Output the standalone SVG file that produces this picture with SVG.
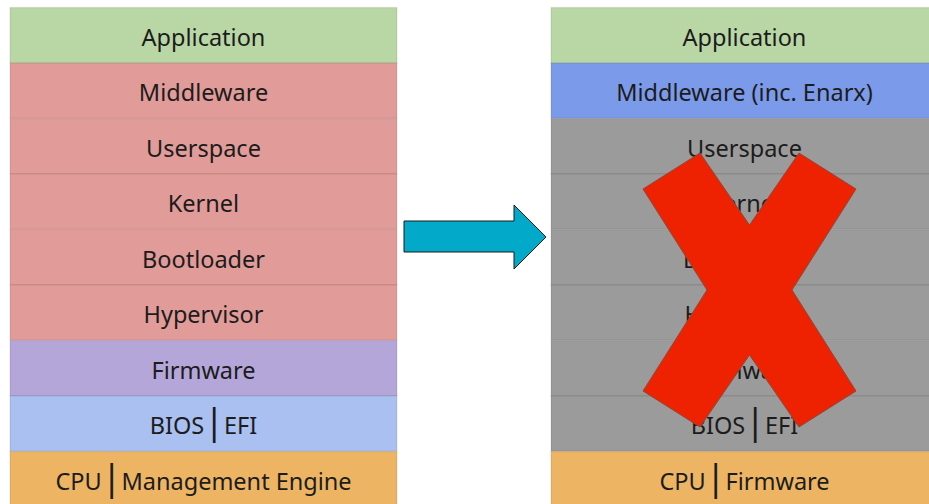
<svg xmlns="http://www.w3.org/2000/svg" width="929" height="504" viewBox="0 0 929 504">
  <style>
    .row { stroke: #000; stroke-opacity: 0.07; stroke-width: 1.5; }
    .lbl { font-family: "Noto Sans", "Open Sans", sans-serif; font-size: 23.5px; fill: #1c1c1c; text-anchor: middle; }
    .bar { font-size: 36px; }
    .app { fill: #b9d7a5; }
    .mid { fill: #e19b98; }
    .fw { fill: #b4a6d9; }
    .bios { fill: #a9c0f1; }
    .cpu { fill: #edb563; }
    .enarx { fill: #7b9ae9; }
    .gone { fill: #9b9b9b; }
  </style>
  <rect width="929" height="504" fill="#ffffff"/>

  <!-- Left stack: conventional layers -->
  <g id="left-stack">
    <g id="l-application"><rect class="row app" x="10" y="7.5" width="387" height="55.5"/><text class="lbl" x="203.5" y="45.5">Application</text></g>
    <g id="l-middleware"><rect class="row mid" x="10" y="63" width="387" height="55.5"/><text class="lbl" x="203.5" y="101">Middleware</text></g>
    <g id="l-userspace"><rect class="row mid" x="10" y="118.5" width="387" height="55.5"/><text class="lbl" x="203.5" y="156.5">Userspace</text></g>
    <g id="l-kernel"><rect class="row mid" x="10" y="174" width="387" height="55.5"/><text class="lbl" x="203.5" y="212">Kernel</text></g>
    <g id="l-bootloader"><rect class="row mid" x="10" y="229.5" width="387" height="55.5"/><text class="lbl" x="203.5" y="267.5">Bootloader</text></g>
    <g id="l-hypervisor"><rect class="row mid" x="10" y="285" width="387" height="55.5"/><text class="lbl" x="203.5" y="323">Hypervisor</text></g>
    <g id="l-firmware"><rect class="row fw" x="10" y="340.5" width="387" height="55.5"/><text class="lbl" x="203.5" y="378.5">Firmware</text></g>
    <g id="l-bios"><rect class="row bios" x="10" y="396" width="387" height="55.5"/><text class="lbl" x="203.5" y="434">BIOS<tspan class="bar">|</tspan>EFI</text></g>
    <g id="l-cpu"><rect class="row cpu" x="10" y="451.5" width="387" height="60"/><text class="lbl" x="203.5" y="489.5">CPU<tspan class="bar">|</tspan>Management Engine</text></g>
  </g>

  <!-- Right stack: reduced trust base -->
  <g id="right-stack">
    <g id="r-application"><rect class="row app" x="551" y="7.5" width="387" height="55.5"/><text class="lbl" x="744.5" y="45.5">Application</text></g>
    <g id="r-middleware"><rect class="row enarx" x="551" y="63" width="387" height="55.5"/><text class="lbl" x="744.5" y="101">Middleware (inc. Enarx)</text></g>
    <g id="r-userspace"><rect class="row gone" x="551" y="118.5" width="387" height="55.5"/><text class="lbl" x="744.5" y="156.5">Userspace</text></g>
    <g id="r-kernel"><rect class="row gone" x="551" y="174" width="387" height="55.5"/><text class="lbl" x="744.5" y="212">Kernel</text></g>
    <g id="r-bootloader"><rect class="row gone" x="551" y="229.5" width="387" height="55.5"/><text class="lbl" x="744.5" y="267.5">Bootloader</text></g>
    <g id="r-hypervisor"><rect class="row gone" x="551" y="285" width="387" height="55.5"/><text class="lbl" x="744.5" y="323">Hypervisor</text></g>
    <g id="r-firmware"><rect class="row gone" x="551" y="340.5" width="387" height="55.5"/><text class="lbl" x="744.5" y="378.5">Firmware</text></g>
    <g id="r-bios"><rect class="row gone" x="551" y="396" width="387" height="55.5"/><text class="lbl" x="744.5" y="434">BIOS<tspan class="bar">|</tspan>EFI</text></g>
    <g id="r-cpu"><rect class="row cpu" x="551" y="451.5" width="387" height="60"/><text class="lbl" x="744.5" y="489.5">CPU<tspan class="bar">|</tspan>Firmware</text></g>
  </g>

  <!-- Big red cross over the removed layers -->
  <g id="cross">
    <polygon points="700,153 749.5,225 799,153 856,189 792,290 856,391 799,427 749.5,355 700,427 643,391 707,290 643,189"
             fill="#ee2200" stroke="#8c4a3c" stroke-width="1"/>
  </g>

  <!-- Transition arrow -->
  <g id="connectors">
    <polygon points="404,221 514,221 514,205 546,237 514,269 514,252 404,252"
             fill="#02a9c8" stroke="#1a1a1a" stroke-width="1"/>
  </g>
</svg>
